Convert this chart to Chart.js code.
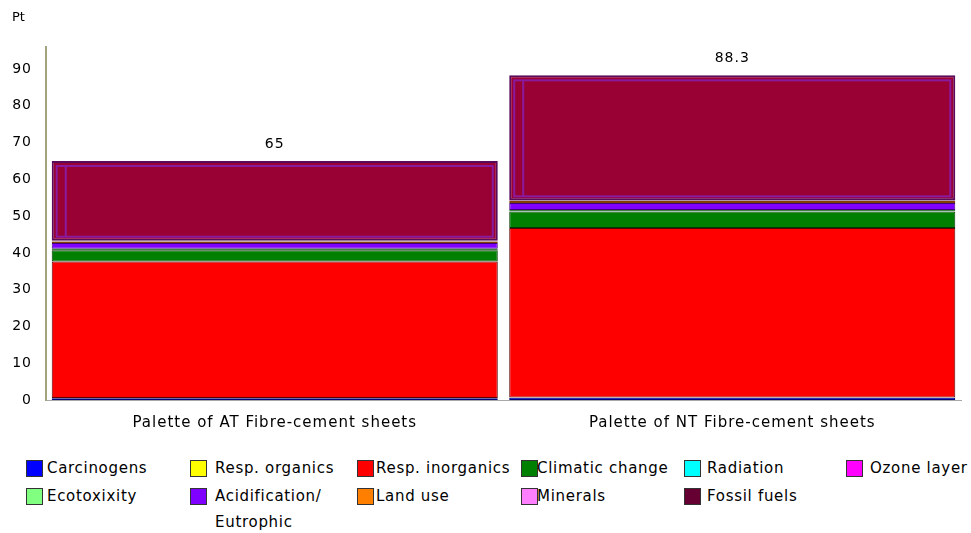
<!DOCTYPE html>
<html>
<head>
<meta charset="utf-8">
<script src="https://cdn.jsdelivr.net/npm/chart.js@4/dist/chart.umd.min.js"></script>
<style>
  html, body { margin: 0; padding: 0; background: #ffffff; }
  #wrap { position: relative; width: 971px; height: 533px; overflow: hidden; font-family: "DejaVu Sans", sans-serif; color: #000; }
  #chart { position: absolute; left: 0; top: 0; }
  #unit { position: absolute; left: 12px; top: 9px; font-size: 13px; }
  .item { position: absolute; font-size: 15px; line-height: 26px; white-space: nowrap; letter-spacing: 0.7px; }
  .box { position: absolute; width: 17px; height: 17px; box-sizing: border-box; border: 1px solid #333; }
  .txt { position: absolute; }
</style>
</head>
<body>
<div id="wrap">
  <canvas id="chart" width="971" height="440"></canvas>
  <div id="unit">Pt</div>
  <div id="legend"></div>
</div>
<script>
// Products compared (one stacked bar each)
const categories = ['Palette of AT Fibre-cement sheets', 'Palette of NT Fibre-cement sheets'];

// Eco-indicator damage categories, in stacking order (bottom to top), values in Pt
const carcinogens     = [0.5, 0.6];
const respOrganics    = [0.05, 0.06];
const respInorganics  = [37.1, 46.1];
const climaticChange  = [3.1, 4.5];
const radiation       = [0.05, 0.06];
const ozoneLayer      = [0.02, 0.03];
const ecotoxicity     = [0.3, 0.35];
const acidification   = [1.6, 1.9];
const landUse         = [0.4, 0.5];
const minerals        = [0.2, 0.2];
const fossilFuels     = [21.68, 34.0];

const seriesNames = ['Carcinogens', 'Resp. organics', 'Resp. inorganics', 'Climatic change', 'Radiation',
  'Ozone layer', 'Ecotoxixity', 'Acidification/\nEutrophic', 'Land use', 'Minerals', 'Fossil fuels'];
const seriesValues = [carcinogens, respOrganics, respInorganics, climaticChange, radiation,
  ozoneLayer, ecotoxicity, acidification, landUse, minerals, fossilFuels];

// Value axis ticks
const yTickValues = [0, 10, 20, 30, 40, 50, 60, 70, 80, 90];

// Styling
const fills   = ['#0000ff', '#ffff00', '#ff0000', '#007f00', '#00ffff', '#ff00ff', '#80ff80', '#8000ff', '#ff8000', '#ff80ff', '#990033'];
const borders = ['#00007a', '#8a8a00', '#5a0000', '#003a00', '#008080', '#800080', '#408040', '#400080', '#804000', '#804080', '#5a0a5a'];
const legendFills = ['#0000ff', '#ffff00', '#ff0000', '#007f00', '#00ffff', '#ff00ff', '#80ff80', '#8000ff', '#ff8000', '#ff80ff', '#660033'];
const legendCols = [[26, 47], [190, 215], [357, 376], [521, 537], [684, 707], [846, 870]];
const legendRows = [455, 483];
const font = "'DejaVu Sans', sans-serif";

const datasets = seriesNames.map((name, i) => ({
  label: name,
  data: seriesValues[i],
  backgroundColor: fills[i],
  borderColor: borders[i],
  borderWidth: i === 10 ? 2 : 1,
  borderSkipped: false,
  categoryPercentage: 0.975,
  barPercentage: 1
}));

// Slightly wider letter spacing for the canvas text
const spacingPlugin = {
  id: 'spacing',
  beforeUpdate(chart) { chart.ctx.letterSpacing = '1px'; },
  beforeDraw(chart) { chart.ctx.letterSpacing = '1px'; }
};

// Inner bevel lines on the fossil fuels block and total score above each bar
const totalsPlugin = {
  id: 'totals',
  afterDatasetsDraw(chart) {
    const ctx = chart.ctx;
    const lastIdx = chart.data.datasets.length - 1;
    const last = chart.getDatasetMeta(lastIdx);
    ctx.save();
    last.data.forEach(el => {
      const half = el.width / 2;
      const l = el.x - half + 5, r = el.x + half - 5, t = el.y + 5, b = el.base - 4;
      ctx.strokeStyle = '#8a1a9e';
      ctx.lineWidth = 2;
      ctx.strokeRect(l, t, r - l, b - t);
      ctx.beginPath();
      ctx.moveTo(l + 9, t); ctx.lineTo(l + 9, b);
      ctx.stroke();
    });
    ctx.font = '14px ' + font;
    ctx.fillStyle = '#000';
    ctx.textAlign = 'center';
    ctx.textBaseline = 'middle';
    categories.forEach((c, j) => {
      const total = seriesValues.reduce((s, arr) => s + arr[j], 0);
      const el = last.data[j];
      const txt = String(Math.round(total * 10) / 10);
      ctx.fillText(txt, el.x, el.y - 17);
    });
    ctx.restore();
  }
};

new Chart(document.getElementById('chart'), {
  type: 'bar',
  data: { labels: categories, datasets },
  options: {
    responsive: false,
    animation: false,
    devicePixelRatio: 1,
    layout: { padding: { top: 47, right: 10, left: 0, bottom: 0 } },
    plugins: { legend: { display: false }, tooltip: { enabled: false }, title: { display: false } },
    scales: {
      x: {
        stacked: true,
        grid: { display: false, drawTicks: false },
        border: { display: true, color: '#a8a8a8', width: 1 },
        ticks: { padding: 14, color: '#000', font: { family: font, size: 15 }, maxRotation: 0 },
        afterFit(scale) { scale.height = 40; }
      },
      y: {
        stacked: true,
        min: 0,
        max: 96,
        grid: { display: false, drawTicks: false },
        border: { display: true, color: '#a3a37e', width: 2 },
        ticks: { padding: 14, color: '#000', font: { family: font, size: 14 } },
        afterBuildTicks(scale) { scale.ticks = yTickValues.map(v => ({ value: v })); },
        afterFit(scale) { scale.width = 46; }
      }
    }
  },
  plugins: [spacingPlugin, totalsPlugin]
});

// Legend laid out in six columns, two rows
const legend = document.getElementById('legend');
seriesNames.forEach((name, i) => {
  const col = i < 6 ? i : i - 6;
  const row = i < 6 ? 0 : 1;
  const item = document.createElement('div');
  item.className = 'item';
  item.style.left = '0px';
  item.style.top = legendRows[row] + 'px';
  const box = document.createElement('div');
  box.className = 'box';
  box.style.left = legendCols[col][0] + 'px';
  box.style.top = '5px';
  box.style.background = legendFills[i];
  const txt = document.createElement('div');
  txt.className = 'txt';
  txt.style.left = legendCols[col][1] + 'px';
  txt.style.top = '0px';
  txt.innerHTML = name.split('\n').join('<br>');
  item.appendChild(box);
  item.appendChild(txt);
  legend.appendChild(item);
});
</script>
</body>
</html>
